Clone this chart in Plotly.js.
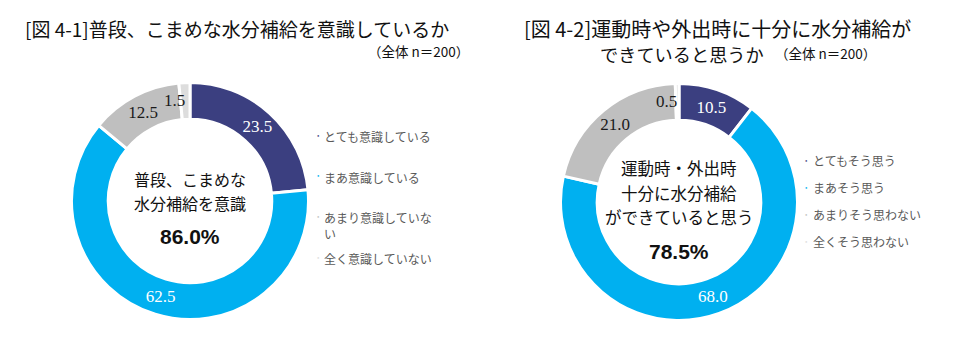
<!DOCTYPE html>
<html>
<head>
<meta charset="utf-8">
<script src="https://cdn.plot.ly/plotly-3.0.1.min.js"></script>
<style>html,body{margin:0;padding:0;background:#fff;}#chart{width:956px;height:357px;}</style>
</head>
<body>
<div id="chart"></div>
<script>
// ---- data ----
const categories1 = ['とても意識している', 'まあ意識している', 'あまり意識していない', '全く意識していない'];
const values1 = [23.5, 62.5, 12.5, 1.5];
const categories2 = ['とてもそう思う', 'まあそう思う', 'あまりそう思わない', '全くそう思わない'];
const values2 = [10.5, 68.0, 21.0, 0.5];
const title1 = '[図 4-1]普段、こまめな水分補給を意識しているか';
const title2a = '[図 4-2]運動時や外出時に十分に水分補給が';
const title2b = 'できていると思うか';
const sampleNote = '（全体 n＝200）';
const center1 = ['普段、こまめな', '水分補給を意識'];
const center2 = ['運動時・外出時', '十分に水分補給', 'ができていると思う'];

// ---- styles ----
const colors = ['#3B3F80', '#00B0F0', '#BFBFBF', '#DDDDDD'];
const labelColors = ['#FFFFFF', '#FFFFFF', '#1a1a1a', '#1a1a1a'];
const W = 956, H = 357;
const px = x => x / W;
const py = y => (H - y) / H;
const R = 118.5, HOLE = 0.69;
const c1 = {x: 190, y: 201};
const c2 = {x: 679, y: 202};
const SMALL = 3; // slices below this share are labelled beside the slice
function dom(c) {
  return {x: [px(c.x - R), px(c.x + R)], y: [py(c.y + R), py(c.y - R)]};
}
function pieTrace(cats, vals, c) {
  return {
    type: 'pie', labels: cats, values: vals, sort: false, direction: 'clockwise', rotation: 0,
    hole: HOLE, domain: dom(c),
    marker: {colors: colors, line: {color: '#FFFFFF', width: 3}},
    text: vals.map(v => v < SMALL ? '' : v.toFixed(1)),
    textinfo: 'text', textposition: 'inside', insidetextorientation: 'horizontal',
    textfont: {family: 'Liberation Serif, serif', size: 17, color: labelColors},
    hoverinfo: 'none', showlegend: false
  };
}
const sansJP = 'Noto Sans CJK JP, sans-serif';
const annotations = [];
function addText(t, x, y, size, opts) {
  annotations.push(Object.assign({text: t, x: px(x), y: py(y), xanchor: 'left', yanchor: 'middle', showarrow: false,
    font: {family: sansJP, size: size, color: '#111'}}, opts || {}));
}
addText(title1, 23, 28, 19);
addText(sampleNote, 471, 51, 13.5, {xanchor: 'right'});
addText(title2a, 522, 28, 20);
addText(title2b, 598, 54, 18.2);
addText(sampleNote, 773, 53, 13.5);
// center texts
const pct1 = (values1[0] + values1[1]).toFixed(1) + '%';
const pct2 = (values2[0] + values2[1]).toFixed(1) + '%';
center1.forEach((t, i) => addText(t, c1.x, 179 + 24 * i, 16, {xanchor: 'center'}));
addText('<b>' + pct1 + '</b>', c1.x, 236, 21, {xanchor: 'center', font: {family: 'Liberation Sans, Arial, sans-serif', size: 21, color: '#111'}});
center2.forEach((t, i) => addText(t, c2.x, 168 + 24.5 * i, 16.5, {xanchor: 'center'}));
addText('<b>' + pct2 + '</b>', c2.x, 252, 21, {xanchor: 'center', font: {family: 'Liberation Sans, Arial, sans-serif', size: 21, color: '#111'}});
// labels of very thin slices, placed from the slice angle (derived from the data)
function smallLabels(vals, c) {
  const total = vals.reduce((a, b) => a + b, 0);
  let cum = 0;
  const rMid = R * (1 + HOLE) / 2;
  vals.forEach(v => {
    const mid = (cum + v / 2) / total * 2 * Math.PI;
    cum += v;
    if (v >= SMALL) return;
    const x = c.x + rMid * Math.sin(mid);
    const y = c.y - rMid * Math.cos(mid);
    annotations.push({text: v.toFixed(1), x: px(x + 2), y: py(y), xanchor: 'right', yanchor: 'middle', showarrow: false,
      font: {family: 'Liberation Serif, serif', size: 17, color: '#1a1a1a'}});
  });
}
smallLabels(values1, c1);
smallLabels(values2, c2);
// legends (text built from category arrays)
function wrapLabel(s) { return s.length > 9 ? s.slice(0, 9) + '<br>' + s.slice(9) : s; }
categories1.forEach((s, i) => {
  const y = 135 + 40.7 * i;
  annotations.push({text: '●', x: px(318), y: py(y), xanchor: 'center', yanchor: 'middle', showarrow: false,
    font: {size: 4, color: colors[i]}});
  annotations.push({text: wrapLabel(s), x: px(322), y: py(y - 9), xanchor: 'left', yanchor: 'top', align: 'left', showarrow: false,
    font: {family: sansJP, size: 12, color: '#595959'}});
});
categories2.forEach((s, i) => {
  const y = 161 + 26.8 * i;
  annotations.push({text: '●', x: px(806), y: py(y), xanchor: 'center', yanchor: 'middle', showarrow: false,
    font: {size: 4, color: colors[i]}});
  annotations.push({text: s, x: px(811), y: py(y), xanchor: 'left', yanchor: 'middle', align: 'left', showarrow: false,
    font: {family: sansJP, size: 12, color: '#595959'}});
});

const layout = {
  width: W, height: H, margin: {l: 0, r: 0, t: 0, b: 0},
  paper_bgcolor: '#FFFFFF', plot_bgcolor: '#FFFFFF',
  showlegend: false,
  annotations: annotations
};
Plotly.newPlot('chart', [pieTrace(categories1, values1, c1), pieTrace(categories2, values2, c2)], layout,
  {displayModeBar: false, staticPlot: true});
</script>
</body>
</html>
